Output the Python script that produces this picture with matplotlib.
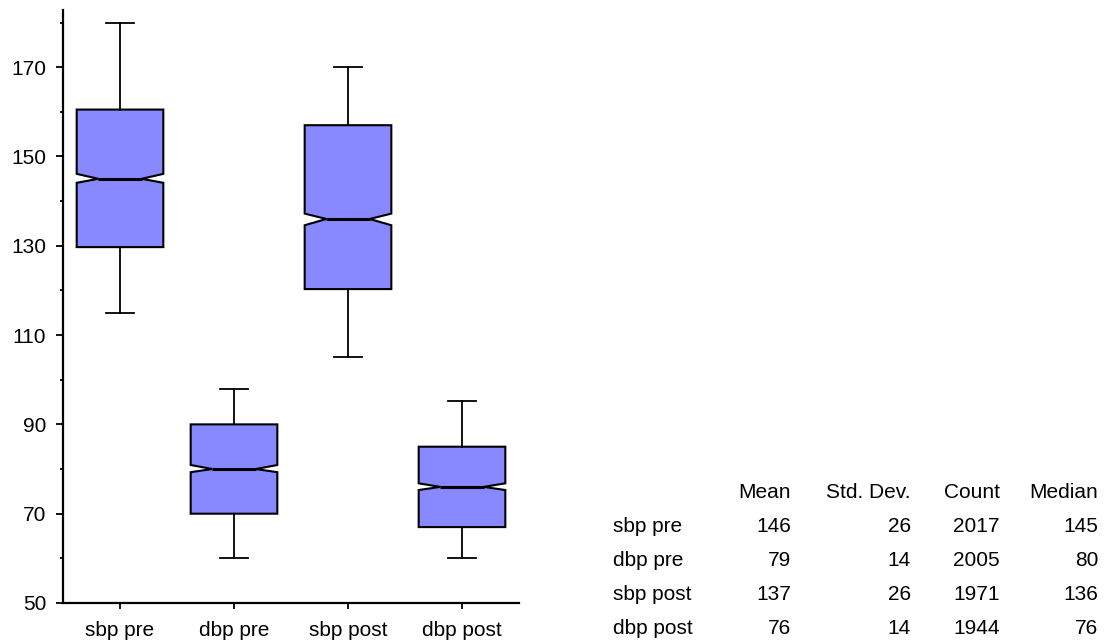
import matplotlib
matplotlib.use('Agg')
import matplotlib.pyplot as plt
from matplotlib.ticker import MultipleLocator

plt.rcParams['font.family'] = ['Liberation Sans', 'DejaVu Sans']

# groups and box statistics
groups = ['sbp pre', 'dbp pre', 'sbp post', 'dbp post']
whis_lo = [115, 60, 105, 60]
q1 = [129.7, 70, 120.3, 67]
med = [145, 80, 136, 76]
q3 = [160.5, 90, 157, 85]
whis_hi = [180, 98, 170, 95.2]
ci_lo = [144.1, 79.3, 134.6, 75.3]
ci_hi = [146.1, 80.9, 137.2, 76.8]

# summary table
means = [146, 79, 137, 76]
stds = [26, 14, 26, 14]
counts = [2017, 2005, 1971, 1944]
medians = [145, 80, 136, 76]
col_names = ['Mean', 'Std. Dev.', 'Count', 'Median']

W, H = 1105, 644
fig = plt.figure(figsize=(W / 100, H / 100), dpi=100)
ax = fig.add_axes([63 / W, (H - 603) / H, (519 - 63) / W, (603 - 10) / H])

stats = []
for i in range(len(groups)):
    stats.append({'label': groups[i], 'whislo': whis_lo[i], 'q1': q1[i],
                  'med': med[i], 'q3': q3[i], 'whishi': whis_hi[i],
                  'cilo': ci_lo[i], 'cihi': ci_hi[i], 'fliers': []})

ax.bxp(stats, positions=[1, 2, 3, 4], widths=0.76, capwidths=0.24,
       shownotches=True, patch_artist=True, showfliers=False,
       boxprops=dict(facecolor='#8888ff', edgecolor='black', linewidth=1.5),
       whiskerprops=dict(color='black', linewidth=1.3),
       capprops=dict(color='black', linewidth=1.3),
       medianprops=dict(color='black', linewidth=2.2))

ax.set_xlim(0.5, 4.5)
ax.set_ylim(50, 182.8)
ax.yaxis.set_major_locator(MultipleLocator(20))
ax.yaxis.set_minor_locator(MultipleLocator(10))
ax.set_yticks([50, 70, 90, 110, 130, 150, 170])
ax.set_xticks([1, 2, 3, 4])
ax.set_xticklabels(groups)

for s in ['top', 'right']:
    ax.spines[s].set_visible(False)
for s in ['left', 'bottom']:
    ax.spines[s].set_linewidth(1.6)

ax.tick_params(axis='y', which='major', length=5, width=1.3, labelsize=15, pad=7)
ax.tick_params(axis='y', which='minor', length=2.5, width=1.3)
ax.tick_params(axis='x', which='major', length=4, width=1.3, labelsize=15, pad=9)

# table of summary values at the right
col_right = [791, 911, 1000, 1098]
label_left = 613
base0 = 498.5
step = 34

def fy(py):
    return 1 - py / H

for j, name in enumerate(col_names):
    fig.text(col_right[j] / W, fy(base0), name, ha='right', va='baseline', fontsize=15)

for i, g in enumerate(groups):
    y = fy(base0 + step * (i + 1))
    fig.text(label_left / W, y, g, ha='left', va='baseline', fontsize=15)
    vals = [means[i], stds[i], counts[i], medians[i]]
    for j, v in enumerate(vals):
        fig.text(col_right[j] / W, y, str(v), ha='right', va='baseline', fontsize=15)

fig.savefig('out.png', dpi=100)
